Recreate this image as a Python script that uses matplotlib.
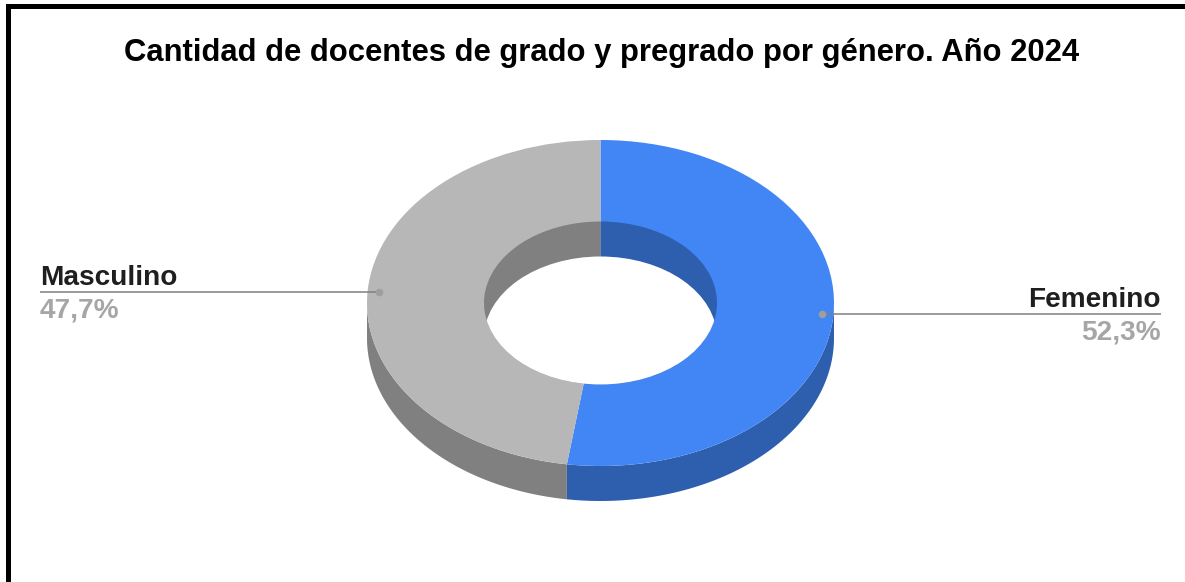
import matplotlib
matplotlib.use('Agg')
import matplotlib.pyplot as plt
from matplotlib.patches import Ellipse, Polygon, Rectangle, Wedge
from matplotlib.transforms import Affine2D
import numpy as np

title = 'Cantidad de docentes de grado y pregrado por género. Año 2024'
categories = ['Femenino', 'Masculino']
shares = [52.3, 47.7]
share_labels = ['52,3%', '47,7%']
top_colors = ['#4285f4', '#b7b7b7']
side_colors = ['#2e5eae', '#808080']

plt.rcParams['font.family'] = ['Liberation Sans', 'DejaVu Sans']

W, H = 1185, 582
fig = plt.figure(figsize=(W / 100, H / 100), dpi=100)
ax = fig.add_axes([0, 0, 1, 1])
ax.set_xlim(0, W)
ax.set_ylim(H, 0)
ax.axis('off')

# donut geometry in pixels
cx, cy = 600.5, 303
rx, ry = 233.5, 163
inner_rx, inner_ry = 116.5, 81.5
depth = 35


def ring_point(frac, a, b, shift=0):
    # frac runs clockwise from 12 o'clock
    t = 2 * np.pi * frac
    return cx + a * np.sin(t), cy + shift - b * np.cos(t)


def wedge(start, end, a, b, **kw):
    # unit wedge squashed to an ellipse; y axis is inverted so angles go clockwise
    unit = Wedge((0, 0), 1, start * 360 - 90, end * 360 - 90, linewidth=0, **kw)
    unit.set_transform(Affine2D().scale(a, b).translate(cx, cy) + ax.transData)
    return unit


fracs = np.cumsum([0] + shares) / sum(shares)

# outer side wall, only the front half shows
for i in range(len(shares)):
    lo, hi = max(fracs[i], 0.25), min(fracs[i + 1], 0.75)
    if hi <= lo:
        continue
    f = np.linspace(lo, hi, 150)
    x, y = ring_point(f, rx, ry)
    x2, y2 = ring_point(f[::-1], rx, ry, depth)
    ax.add_patch(Polygon(np.column_stack([np.r_[x, x2], np.r_[y, y2]]),
                         closed=True, facecolor=side_colors[i], edgecolor='none', zorder=2))

# top face and the wall inside the hole
for i in range(len(shares)):
    ax.add_patch(wedge(fracs[i], fracs[i + 1], rx, ry, facecolor=top_colors[i], zorder=3))
    ax.add_patch(wedge(fracs[i], fracs[i + 1], inner_rx, inner_ry, facecolor=side_colors[i], zorder=4))

# hole: inner ellipse dropped by the depth, clipped to the top opening
opening = Ellipse((cx, cy), 2 * inner_rx, 2 * inner_ry, transform=ax.transData)
hole = Ellipse((cx, cy + depth), 2 * inner_rx, 2 * inner_ry, facecolor='white', edgecolor='none', zorder=5)
ax.add_patch(hole)
hole.set_clip_path(opening)

# leader lines and labels
sides = [(1161, 'right'), (40, 'left')]
for i, name in enumerate(categories):
    mid = (fracs[i] + fracs[i + 1]) / 2
    dx, dy = ring_point(mid, rx * 0.95, ry * 0.95)
    end_x, align = sides[i]
    ax.plot([dx, end_x], [dy, dy], color='#808080', lw=1.1, zorder=6, solid_capstyle='butt')
    ax.plot([dx], [dy], 'o', color='#9e9e9e', ms=5.5, mew=0, zorder=7)
    ax.text(end_x, dy - 7, name, ha=align, va='baseline', fontsize=20.2, fontweight='bold', color='#1f1f1f', zorder=8)
    ax.text(end_x, dy + 25.5, share_labels[i], ha=align, va='baseline', fontsize=20.2, fontweight='bold', color='#a6a6a6', zorder=8)

ax.text(602, 61, title, ha='center', va='baseline', fontsize=22.3, fontweight='bold', color='black')

# black frame, open on the right and bottom
ax.add_patch(Rectangle((6, 3.5), W, 5, facecolor='black', edgecolor='none', zorder=9))
ax.add_patch(Rectangle((6, 3.5), 5, H, facecolor='black', edgecolor='none', zorder=9))

fig.savefig('out.png', dpi=100)
